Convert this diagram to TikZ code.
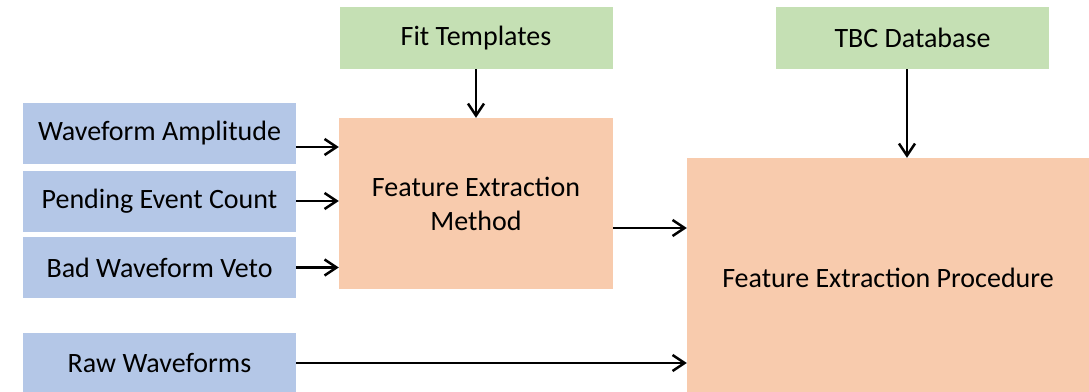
\documentclass[tikz,border=0pt]{standalone}
\usepackage{fontspec}
\setmainfont{Carlito}
\usetikzlibrary{arrows.meta}
\definecolor{inblue}{HTML}{B4C7E7}
\definecolor{srcgreen}{HTML}{C5E0B4}
\definecolor{procorange}{HTML}{F8CBAD}
\begin{document}
\begin{tikzpicture}[x=1pt,y=-1pt,
  box/.style={inner sep=0pt, text=black, align=center,
    font=\fontsize{28}{34}\selectfont},
  inbox/.style={box, fill=inblue, minimum width=273pt, minimum height=61pt},
  srcbox/.style={box, fill=srcgreen, minimum width=273pt, minimum height=62pt},
  procbox/.style={box, fill=procorange},
  flow/.style={line width=2.5pt,
    -{Straight Barb[length=12pt,width=16pt,line width=2.5pt]}}]
\clip (0,0) rectangle (1089,391);
\useasboundingbox (0,0) rectangle (1089,391);

% sources
\node[srcbox] (fit) at (476,38) {Fit Templates};
\node[srcbox] (tbc) at (912.5,38) {TBC Database};

% inputs
\node[inbox] (amp)  at (159.5,133.5) {Waveform Amplitude};
\node[inbox] (pend) at (159.5,201)   {Pending Event Count};
\node[inbox] (veto) at (159.5,267.5) {Bad Waveform Veto};
\node[inbox, minimum height=60pt] (raw) at (159.5,363) {Raw Waveforms};

% processing stages
\node[procbox, minimum width=274pt, minimum height=171pt] (fem) at (476,203.5)
  {Feature Extraction\\Method};
\node[procbox, minimum width=402pt, minimum height=240pt] (fep) at (888,278)
  {Feature Extraction Procedure};

% connectors
\draw[flow] (fit.south) -- (fem.north);
\draw[flow] ([xshift=-5.5pt]tbc.south) -- ([xshift=-5.5pt]tbc.south |- fep.north);
\draw[flow] ([yshift=-13.5pt]amp.east) -- ([yshift=-13.5pt]amp.east -| fem.west);
\draw[flow] (pend.east) -- (pend.east -| fem.west);
\draw[flow] (veto.east) -- (veto.east -| fem.west);
\draw[flow] ([yshift=-24.5pt]fem.east) -- ([yshift=-24.5pt]fem.east -| fep.west);
\draw[flow] (raw.east) -- (raw.east -| fep.west);
\end{tikzpicture}
\end{document}
